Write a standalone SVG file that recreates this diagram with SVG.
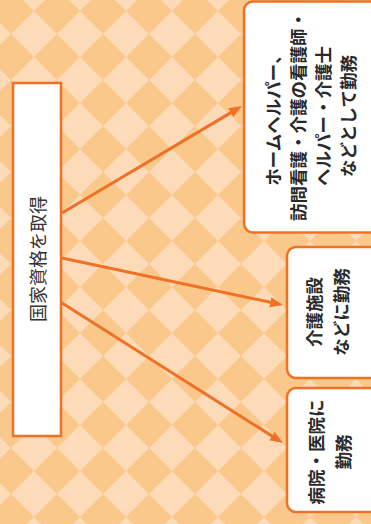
<svg xmlns="http://www.w3.org/2000/svg" width="371" height="524" viewBox="0 0 371 524">
<style>
.box{fill:#fff;stroke:#EF7126;stroke-width:2.5}
.conn{stroke:#EF7126;stroke-width:3;fill:none}
.t{font-family:"Noto Sans CJK JP",sans-serif;fill:#333;text-anchor:middle;dominant-baseline:central}
.b{font-weight:bold;font-size:17.5px;fill:#2a2a2a}
</style>
<defs>
<pattern id="chk" x="11" y="11" width="46" height="46" patternUnits="userSpaceOnUse">
<rect width="46" height="46" fill="#FBC88C"/>
<path d="M23,0 L46,23 L23,46 L0,23 Z" fill="#FDDAB8"/>
</pattern>
<marker id="ah" markerUnits="userSpaceOnUse" markerWidth="14" markerHeight="11" refX="5" refY="5" orient="auto">
<path d="M0,0 L13,5 L0,10 Z" fill="#EF7126"/>
</marker>
</defs>
<rect width="371" height="524" fill="url(#chk)"/>
<g id="connectors">
<line class="conn" x1="62" y1="213" x2="235.1" y2="110.1" marker-end="url(#ah)"/>
<line class="conn" x1="62" y1="258" x2="275.2" y2="303.3" marker-end="url(#ah)"/>
<line class="conn" x1="62" y1="303" x2="276.2" y2="438.7" marker-end="url(#ah)"/>
</g>
<g id="source">
<rect class="box" x="13" y="83" width="48" height="353"/>
<text class="t" font-size="18" transform="translate(37,259) rotate(-90)">国家資格を取得</text>
</g>
<g id="home">
<rect class="box" x="244" y="1.5" width="140" height="231" rx="9"/>
<g class="t b" transform="translate(310,116) rotate(-90)">
<text y="-37.5">ホームヘルパー、</text>
<text y="-12.5">訪問看護・介護の看護師・</text>
<text y="12.5">ヘルパー・介護士</text>
<text y="37.5">などとして勤務</text>
</g>
</g>
<g id="facility">
<rect class="box" x="287" y="247" width="100" height="131" rx="9"/>
<g class="t b" transform="translate(326.5,312) rotate(-90)">
<text y="-13.5">介護施設</text>
<text y="13.5">などに勤務</text>
</g>
</g>
<g id="hospital">
<rect class="box" x="287" y="388" width="100" height="124" rx="9"/>
<g class="t b" transform="translate(328.5,452) rotate(-90)">
<text y="-13.5">病院・医院に</text>
<text y="13.5">勤務</text>
</g>
</g>
</svg>
